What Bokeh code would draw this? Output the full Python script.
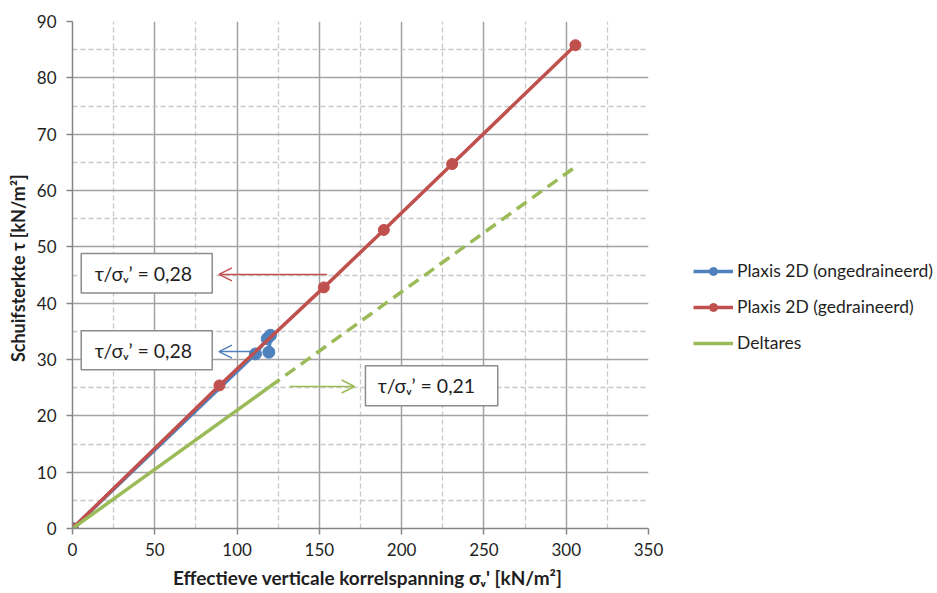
from bokeh.plotting import figure
from bokeh.layouts import row
from bokeh.models import (Range1d, FixedTicker, Legend, LegendItem, Arrow, OpenHead,
                          ColumnDataSource)
from bokeh.core.properties import value
from bokeh.embed import file_html
from bokeh.resources import INLINE

# --- data -------------------------------------------------------------
undrained_x = [0, 111.2, 118.3, 120.3, 119.3]
undrained_y = [0, 31.0, 33.7, 34.3, 31.3]

drained_x = [0, 89.3, 152.7, 189.2, 230.7, 305.6]
drained_y = [0, 25.4, 42.8, 53.0, 64.7, 85.8]

# Deltares line: solid up to the second point, dashed beyond
deltares_x = [0, 120.0, 305.6]
deltares_y = [0, 25.2, 64.2]

x_ticks = [0, 50, 100, 150, 200, 250, 300, 350]
y_ticks = [0, 10, 20, 30, 40, 50, 60, 70, 80, 90]

series_names = ["Plaxis 2D (ongedraineerd)", "Plaxis 2D (gedraineerd)", "Deltares"]

# ratio call-outs: value, box extent, text anchor, arrow start/end
ratios = [0.28, 0.28, 0.21]
ratio_colors = ["#C0504D", "#4F81BD", "#9BBB59"]
box_left = [5.3, 5.3, 178.0]
box_right = [84.9, 84.9, 258.4]
box_bottom = [41.8, 28.2, 21.8]
box_top = [48.8, 35.1, 28.9]
text_x = [13.5, 13.5, 185.5]
arrow_x0 = [154.7, 110.5, 132.0]
arrow_x1 = [89.0, 89.0, 171.4]
arrow_y = [45.1, 31.4, 25.2]

BLUE, RED, GREEN = "#4F81BD", "#C0504D", "#9BBB59"
FONT = "Lato"
TXT = "#1f1f1f"
EM = "\u2003"  # em space: nudges a centred axis title off the frame centre

p = figure(width=668, height=593, output_backend="svg", toolbar_location=None,
           x_range=Range1d(0, 350), y_range=Range1d(0, 90),
           min_border_left=72, min_border_right=20,
           min_border_top=21, min_border_bottom=65)
p.outline_line_color = None
p.background_fill_color = "white"
p.border_fill_color = "white"

# axes
p.xaxis.ticker = FixedTicker(ticks=x_ticks, minor_ticks=[v + 25 for v in x_ticks[:-1]])
p.yaxis.ticker = FixedTicker(ticks=y_ticks, minor_ticks=[v + 5 for v in y_ticks[:-1]])
for ax in (p.xaxis[0], p.yaxis[0]):
    ax.axis_line_color = "#868686"
    ax.axis_line_width = 1.5
    ax.major_tick_line_color = "#868686"
    ax.major_tick_line_width = 1.5
    ax.major_tick_out = 6
    ax.major_tick_in = 0
    ax.minor_tick_line_color = None
    ax.major_label_text_font = FONT
    ax.major_label_text_font_size = "17px"
    ax.major_label_text_color = TXT
    ax.axis_label_text_font = FONT
    ax.axis_label_text_font_style = "bold"
    ax.axis_label_text_color = TXT
p.xaxis.axis_label_text_font_size = "19px"
p.yaxis.axis_label_text_font_size = "18px"
p.xaxis.major_label_standoff = 8
p.yaxis.major_label_standoff = 10
p.xaxis.axis_label = EM + "Effectieve verticale korrelspanning σᵥ' [kN/m²]"
p.yaxis.axis_label = EM + "Schuifsterkte τ [kN/m²]"
p.xaxis.axis_label_standoff = 7
p.yaxis.axis_label_standoff = 5

# grid: solid majors, dashed minors
for g in (p.xgrid[0], p.ygrid[0]):
    g.grid_line_color = "#a3a3a3"
    g.grid_line_width = 1.5
    g.minor_grid_line_color = "#c8c8c8"
    g.minor_grid_line_width = 1.3
    g.minor_grid_line_dash = "5 3"

# series
p.line(undrained_x, undrained_y, line_color=BLUE, line_width=3.5)
p.scatter(undrained_x, undrained_y, size=12, fill_color=BLUE, line_color=BLUE)

p.line(drained_x, drained_y, line_color=RED, line_width=3.5)
p.scatter(drained_x, drained_y, size=11, fill_color=RED, line_color=RED)

p.line(deltares_x[:2], deltares_y[:2], line_color=GREEN, line_width=3.5)
p.line(deltares_x[1:], deltares_y[1:], line_color=GREEN, line_width=3.5, line_dash="12 7")

# ratio call-outs
box_src = ColumnDataSource(dict(left=box_left, right=box_right, top=box_top, bottom=box_bottom))
p.quad(left="left", right="right", top="top", bottom="bottom", source=box_src,
       fill_color="white", line_color="#8c8c8c", line_width=1.5)
labels = ["τ/σᵥ’ = " + f"{r:.2f}".replace(".", ",") for r in ratios]
p.text(x=text_x, y=[(b + t) / 2 for b, t in zip(box_bottom, box_top)], text=labels,
       text_font=value(FONT), text_font_size="19.5px", text_color=TXT,
       text_baseline="middle", text_align="left")
for x0, x1, y, c in zip(arrow_x0, arrow_x1, arrow_y, ratio_colors):
    p.add_layout(Arrow(x_start=x0, y_start=y, x_end=x1, y_end=y,
                       line_color=c, line_width=1.5,
                       end=OpenHead(size=13, line_color=c, line_width=1.5)))

# legend panel to the right of the chart; its ranges keep the series
# themselves out of view so only the legend swatches show
lg = figure(width=269, height=593, output_backend="svg", toolbar_location=None,
            x_range=Range1d(1000, 1001), y_range=Range1d(1000, 1001),
            x_axis_type=None, y_axis_type=None,
            min_border_left=0, min_border_right=0, min_border_top=0, min_border_bottom=0)
lg.outline_line_color = None
lg.grid.visible = False
lg_blue = [lg.line(undrained_x, undrained_y, line_color=BLUE, line_width=3.5),
           lg.scatter(undrained_x, undrained_y, size=11, fill_color=BLUE, line_color=BLUE)]
lg_red = [lg.line(drained_x, drained_y, line_color=RED, line_width=3.5),
          lg.scatter(drained_x, drained_y, size=11, fill_color=RED, line_color=RED)]
lg_green = [lg.line(deltares_x, deltares_y, line_color=GREEN, line_width=3.5)]

legend = Legend(items=[
    LegendItem(label=series_names[0], renderers=lg_blue),
    LegendItem(label=series_names[1], renderers=lg_red),
    LegendItem(label=series_names[2], renderers=lg_green),
], location=(25, 175), orientation="vertical")
legend.padding = 0
legend.margin = 0
legend.spacing = 15
legend.glyph_width = 40
legend.glyph_height = 20
legend.label_height = 20
legend.label_standoff = 4
legend.label_text_font = FONT
legend.label_text_font_size = "17.5px"
legend.label_text_color = TXT
legend.border_line_color = None
legend.background_fill_alpha = 0
lg.add_layout(legend, "center")

layout = row(p, lg, spacing=0)
open("out.html", "w").write(file_html(layout, INLINE))
